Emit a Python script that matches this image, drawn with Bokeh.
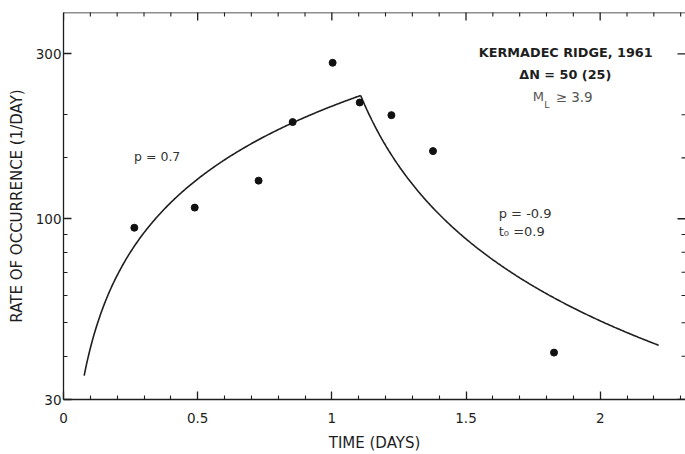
import numpy as np
from bokeh.plotting import figure
from bokeh.models import Range1d, FixedTicker, Label, NumeralTickFormatter, Span
from bokeh.embed import file_html
from bokeh.resources import INLINE

# Observed daily rates of occurrence
time_days = [0.264, 0.489, 0.727, 0.854, 1.003, 1.104, 1.222, 1.377, 1.828]
rate_per_day = [94.2, 107.7, 128.9, 190.4, 282.6, 216.9, 199.4, 156.9, 41.0]

# Fitted power laws: rise n = K t^p1, decay n = A (t - t0)^p2
p_rise = 0.7
p_decay = -0.9
t0 = 0.9
k_rise = 211.6
a_decay = 55.2
t_start = 0.077
t_end = 2.218

x_ticks = [0, 0.5, 1, 1.5, 2]
y_ticks = [30, 100, 300]
y_minor = [40, 50, 60, 70, 80, 90, 150, 200]

X_MAX = 2.318
Y_MIN, Y_MAX = 30, 395

# Crossover between the two branches
tt = np.linspace(t0 + 0.05, 1.6, 20001)
diff = k_rise * tt ** p_rise - a_decay * (tt - t0) ** p_decay
t_break = tt[np.argmin(np.abs(diff))]

t1 = np.linspace(t_start, t_break, 300)
t2 = np.linspace(t_break, t_end, 300)
n1 = k_rise * t1 ** p_rise
n2 = a_decay * (t2 - t0) ** p_decay

FONT = "DejaVu Sans"
INK = "#1e1e1e"

p = figure(width=685, height=454, y_axis_type="log",
           x_range=Range1d(0, X_MAX), y_range=Range1d(Y_MIN, Y_MAX),
           output_backend="svg", toolbar_location=None,
           min_border_left=63, min_border_right=0,
           min_border_top=12, min_border_bottom=55,
           background_fill_color="white", border_fill_color="white")
p.outline_line_color = None
p.xgrid.visible = False
p.ygrid.visible = False

minor_x = [round(v, 1) for v in np.arange(0.1, 2.35, 0.1) if abs(v * 2 - round(v * 2)) > 1e-6]
xt = FixedTicker(ticks=x_ticks, minor_ticks=minor_x)
yt = FixedTicker(ticks=y_ticks, minor_ticks=y_minor)


def style(ax):
    ax.axis_line_color = INK
    ax.axis_line_width = 1.3
    ax.major_tick_line_color = INK
    ax.minor_tick_line_color = INK
    ax.major_tick_line_width = 1.3
    ax.minor_tick_line_width = 1.1
    ax.major_tick_in = 8
    ax.major_tick_out = 0
    ax.minor_tick_in = 4
    ax.minor_tick_out = 0
    ax.major_label_text_font = FONT
    ax.major_label_text_font_size = "13.5px"
    ax.major_label_text_color = INK
    ax.axis_label_text_font = FONT
    ax.axis_label_text_font_size = "15px"
    ax.axis_label_text_font_style = "normal"
    ax.axis_label_text_color = INK


xa = p.xaxis[0]
xa.ticker = xt
xa.formatter = NumeralTickFormatter(format="0.[0]")
style(xa)
xa.major_label_standoff = 13
xa.axis_label = "TIME (DAYS)"
xa.axis_label_standoff = 8

ya = p.yaxis[0]
ya.ticker = yt
ya.formatter = NumeralTickFormatter(format="0")
style(ya)
ya.major_label_standoff = 2
ya.axis_label = "RATE OF OCCURRENCE (1/DAY)"
ya.axis_label_standoff = 7

# Upper frame line with inward ticks, and inward ticks on the right edge
p.add_layout(Span(location=Y_MAX, dimension="width", line_color=INK, line_width=1.3))
p.scatter(x_ticks, [Y_MAX] * len(x_ticks), marker="dash", angle=np.pi / 2, size=16,
          line_color=INK, line_width=1.3)
p.scatter(minor_x, [Y_MAX] * len(minor_x), marker="dash", angle=np.pi / 2, size=8,
          line_color=INK, line_width=1.1)
p.scatter([X_MAX] * len(y_ticks), y_ticks, marker="dash", size=16,
          line_color=INK, line_width=1.3)
p.scatter([X_MAX] * len(y_minor), y_minor, marker="dash", size=8,
          line_color=INK, line_width=1.1)

p.line(t1, n1, line_color=INK, line_width=1.6)
p.line(t2, n2, line_color=INK, line_width=1.6)
p.scatter(time_days, rate_per_day, size=7, fill_color="#111111", line_color="#111111")


def lab(x, y, text, size="12px", style="normal", align="left", color=INK):
    p.add_layout(Label(x=x, y=y, text=text, text_font=FONT, text_font_size=size,
                       text_font_style=style, text_align=align,
                       text_baseline="middle", text_color=color))


lab(1.88, 302, "KERMADEC  RIDGE, 1961", size="12.8px", style="bold", align="center")
lab(1.87, 262, "\u0394N = 50 (25)", size="12.8px", style="bold", align="center")
lab(1.749, 225, "M", size="13px", color="#555555")
lab(1.792, 214, "L", size="9.5px", color="#555555")
lab(1.834, 225, "\u2265 3.9", size="13.5px", color="#555555")
lab(0.263, 151, "p = 0.7", size="12.5px", color="#333333")
lab(1.622, 103.5, "p = -0.9", size="13px", color="#333333")
lab(1.622, 92, "t\u2080 =0.9", size="13px", color="#333333")

open("out.html", "w").write(file_html(p, INLINE))
